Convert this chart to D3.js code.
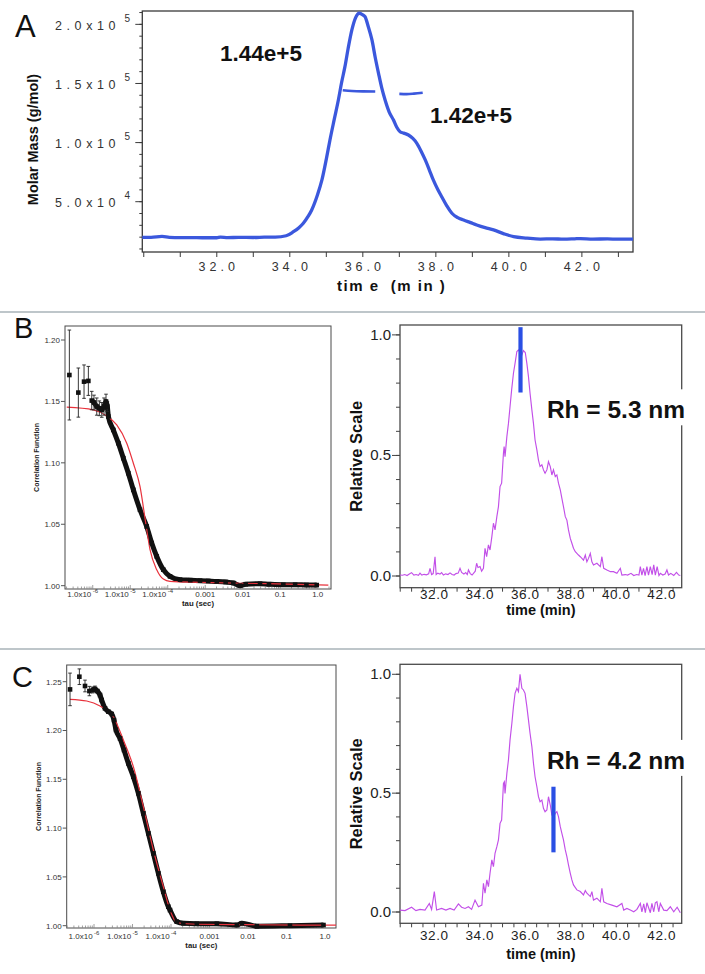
<!DOCTYPE html>
<html><head><meta charset="utf-8">
<script src="https://cdn.jsdelivr.net/npm/d3@7"></script>
<style>
html,body{margin:0;padding:0;background:#fff;}
svg{display:block;font-family:"Liberation Sans",Arial,Helvetica,sans-serif;}
</style></head><body>
<svg id="fig" width="705" height="974"></svg>
<script>
// ===================== DATA =====================
// Panel A : light-scattering trace (time in min, value on molar-mass axis)
const molarTrace = [[29.96,19900],[30.2,19800],[30.5,20600],[30.7,19900],[31.0,19600],[31.3,19600],[31.6,19500],[32.0,19500],[32.1,20100],[32.3,19600],[32.6,19800],[33.0,19700],[33.3,20000],[33.6,20100],[33.9,21200],[34.1,24600],[34.25,28000],[34.37,31700],[34.5,37500],[34.6,43000],[34.75,55000],[34.88,68400],[35.0,86000],[35.1,102200],[35.22,120000],[35.33,136000],[35.42,151000],[35.51,164200],[35.6,180000],[35.7,195300],[35.8,205500],[35.9,209400],[36.0,208000],[36.06,206500],[36.15,198000],[36.25,186800],[36.34,172000],[36.43,158600],[36.52,146000],[36.61,136000],[36.72,126000],[36.84,119100],[36.93,113000],[37.02,109200],[37.12,108000],[37.25,106400],[37.37,103500],[37.48,99400],[37.6,92500],[37.71,85300],[37.82,77000],[37.93,68400],[38.05,60500],[38.16,54200],[38.3,46500],[38.44,40200],[38.6,36500],[38.76,34500],[38.95,32300],[39.12,30300],[39.35,28000],[39.58,26100],[39.85,23000],[40.13,20400],[40.5,19200],[40.86,18400],[41.2,18600],[41.5,18300],[41.8,18600],[41.96,18800],[42.3,18400],[42.7,18500],[43.0,18300],[43.4,18300]];
const molarMass1 = [[35.45,144200],[35.7,143600],[36.0,143300],[36.34,143200]];
const molarMass2 = [[37.0,141200],[37.2,141000],[37.4,141400],[37.64,142200]];
const molarLabels = [{text:"1.44e+5", t:32.09, v:169000},{text:"1.42e+5", t:37.84, v:116600}];
const molarTicks = [50000,100000,150000,200000];
const molarTickBase = ["5.0x10","1.0x10","1.5x10","2.0x10"];
const molarTickSup = ["4","5","5","5"];
const timeTicksA = [32,34,36,38,40,42];

// Panel B / C left : DLS correlation functions [tau (s), g, error]
const corrB = [[2.38e-7,1.1715,0.0366],[4.13e-7,1.1572,0.020],[5.86e-7,1.1661,0.0136],[7.64e-7,1.1667,0.0118],[9.4e-7,1.1507,0.0075],[1.08e-6,1.1491,0.006],[1.28e-6,1.1458,0.007],[1.50e-6,1.1444,0.006],[1.74e-6,1.1431,0.006],[2.0e-6,1.1458,0.007],[2.26e-6,1.1499,0.006],[2.45e-6,1.1458,0.004],[2.61e-6,1.1377,0],[3.54e-6,1.1268,0],[4.82e-6,1.1160,0],[6.55e-6,1.1038,0],[8.89e-6,1.0916,0],[1.21e-5,1.0780,0],[1.82e-5,1.0618,0],[2.75e-5,1.0482,0],[3.74e-5,1.0347,0],[5.09e-5,1.0238,0],[7.64e-5,1.0130,0],[1.15e-4,1.0076,0],[2.13e-4,1.0049,0],[4.0e-4,1.0045,0],[7.26e-4,1.0041,0],[1.2e-3,1.0038,0],[2.03e-3,1.0035,0],[3.5e-3,1.0030,0],[5.61e-3,1.0022,0],[8.47e-3,1.0000,0],[0.012,1.0012,0],[0.0289,1.0016,0],[0.05,1.0012,0],[0.121,1.0008,0],[0.25,1.0008,0],[0.5,1.0006,0],[0.94,1.0005,0]];
const fitB = [[2.03e-7,1.1453],[1.04e-6,1.1431],[2.36e-6,1.1382],[4.37e-6,1.1309],[8.07e-6,1.1160],[1.21e-5,1.0997],[1.82e-5,1.0808],[2.59e-5,1.0509],[3.37e-5,1.0293],[5.09e-5,1.0130],[7.64e-5,1.0054],[1.15e-4,1.0035],[7.26e-4,1.0027],[0.0437,1.0016],[1.92,1.0005]];
const corrC = [[2.38e-7,1.2421,0.0167],[4.16e-7,1.2551,0.008],[5.83e-7,1.2456,0.006],[7.57e-7,1.2404,0.0048],[9.25e-7,1.2415,0.003],[1.06e-6,1.2425,0.003],[1.22e-6,1.2404,0],[1.43e-6,1.2363,0],[1.58e-6,1.2312,0],[1.93e-6,1.2227,0],[2.36e-6,1.2193,0],[2.88e-6,1.2169,0],[3.30e-6,1.2107,0],[3.72e-6,1.2005,0],[4.73e-6,1.1919,0],[6.01e-6,1.1800,0],[7.80e-6,1.1663,0],[1.05e-5,1.1527,0],[1.42e-5,1.1356,0],[1.91e-5,1.1151,0],[2.58e-5,1.0946,0],[3.48e-5,1.0741,0],[4.69e-5,1.0536,0],[6.31e-5,1.0348,0],[8.51e-5,1.0195,0],[9.42e-5,1.0160,0],[1.41e-4,1.0041,0],[2.09e-4,1.0025,0],[4.68e-4,1.0020,0],[1.55e-3,1.0020,0],[5.13e-3,1.0007,0],[6.92e-3,1.0025,0],[0.017,0.9995,0],[0.123,1.0000,0],[0.912,1.0007,0]];
const fitC = [[2.38e-7,1.2319],[6.46e-7,1.2302],[1.43e-6,1.2251],[3.18e-6,1.2141],[5.78e-6,1.1902],[1.05e-5,1.1629],[1.91e-5,1.1219],[3.48e-5,1.0775],[6.31e-5,1.0400],[9.42e-5,1.0160],[1.41e-4,1.0030],[4.68e-4,1.0015],[0.0112,1.0010],[1.93,1.0005]];
const corrTicksB = [1.00,1.05,1.10,1.15,1.20];
const corrTicksC = [1.00,1.05,1.10,1.15,1.20,1.25];
const tauTicks = [1e-6,1e-5,1e-4,1e-3,1e-2,1e-1,1];
const tauTickBase = ["1.0x10","1.0x10","1.0x10","0.001","0.01","0.1","1.0"];
const tauTickSup = ["-6","-5","-4","","","",""];

// Panel B / C right : SEC relative scale traces [time (min), relative scale]
const secB = [[30.49,0.004],[30.6,0.003],[30.7,0.006],[30.8,0.002],[30.9,0.008],[31.0,0.014],[31.1,0.004],[31.2,0.006],[31.3,0.003],[31.37,0.012],[31.45,0.004],[31.55,0.007],[31.65,0.005],[31.75,0.009],[31.81,0.032],[31.88,0.006],[31.95,0.010],[32.03,0.080],[32.08,0.006],[32.15,0.012],[32.25,0.008],[32.32,0.014],[32.4,0.004],[32.5,0.009],[32.6,0.006],[32.69,0.013],[32.78,0.006],[32.87,0.004],[32.95,0.010],[33.05,0.012],[33.13,0.032],[33.2,0.015],[33.3,0.008],[33.38,0.014],[33.45,0.006],[33.5,0.025],[33.58,0.010],[33.66,0.004],[33.73,0.012],[33.8,0.020],[33.86,0.053],[33.92,0.035],[34.01,0.039],[34.08,0.020],[34.16,0.032],[34.23,0.115],[34.3,0.080],[34.38,0.129],[34.45,0.108],[34.53,0.163],[34.6,0.219],[34.67,0.191],[34.75,0.246],[34.82,0.288],[34.89,0.371],[34.96,0.385],[35.04,0.509],[35.07,0.537],[35.11,0.495],[35.19,0.578],[35.26,0.633],[35.33,0.703],[35.4,0.772],[35.48,0.841],[35.55,0.882],[35.63,0.931],[35.7,0.938],[35.77,0.927],[35.85,0.917],[35.92,0.935],[36.0,0.927],[36.07,0.882],[36.14,0.827],[36.21,0.758],[36.29,0.689],[36.36,0.633],[36.43,0.564],[36.51,0.523],[36.58,0.481],[36.65,0.454],[36.73,0.461],[36.8,0.440],[36.87,0.426],[36.95,0.440],[37.02,0.474],[37.1,0.454],[37.17,0.419],[37.24,0.440],[37.32,0.412],[37.39,0.419],[37.46,0.385],[37.54,0.357],[37.61,0.322],[37.68,0.288],[37.76,0.246],[37.83,0.232],[37.9,0.191],[37.98,0.156],[38.05,0.136],[38.12,0.115],[38.2,0.101],[38.27,0.094],[38.34,0.087],[38.42,0.080],[38.49,0.073],[38.56,0.066],[38.64,0.087],[38.71,0.059],[38.78,0.073],[38.86,0.094],[38.93,0.059],[39.0,0.046],[39.15,0.053],[39.3,0.039],[39.37,0.080],[39.45,0.032],[39.59,0.025],[39.75,0.018],[39.88,0.018],[40.03,0.011],[40.18,0.032],[40.25,0.004],[40.4,0.006],[40.5,0.004],[40.65,0.011],[40.77,0.002],[40.9,0.006],[41.0,0.004],[41.06,0.039],[41.13,0.004],[41.2,0.032],[41.27,0.002],[41.35,0.039],[41.42,0.004],[41.5,0.039],[41.58,0.006],[41.65,0.046],[41.72,0.004],[41.8,0.039],[41.88,0.002],[41.94,0.011],[42.05,0.004],[42.15,0.008],[42.23,0.025],[42.3,0.004],[42.4,0.011],[42.53,0.002],[42.65,0.015],[42.75,0.004],[42.82,0.002]];
const secC = [[30.49,0.008],[30.71,0.006],[31.0,0.020],[31.19,0.006],[31.37,0.011],[31.59,0.008],[31.78,0.036],[31.88,0.011],[32.0,0.086],[32.1,0.008],[32.32,0.015],[32.51,0.008],[32.69,0.015],[32.87,0.008],[33.06,0.034],[33.2,0.020],[33.35,0.015],[33.5,0.022],[33.64,0.011],[33.79,0.050],[33.94,0.022],[34.09,0.029],[34.16,0.121],[34.23,0.079],[34.31,0.135],[34.38,0.107],[34.45,0.163],[34.53,0.219],[34.6,0.191],[34.67,0.247],[34.75,0.275],[34.82,0.303],[34.89,0.373],[34.96,0.387],[35.04,0.541],[35.08,0.548],[35.11,0.499],[35.19,0.583],[35.26,0.640],[35.33,0.724],[35.41,0.794],[35.48,0.864],[35.55,0.920],[35.63,0.941],[35.7,0.927],[35.77,1.000],[35.85,0.941],[35.92,0.934],[35.99,0.920],[36.07,0.864],[36.14,0.808],[36.21,0.752],[36.29,0.696],[36.36,0.626],[36.43,0.569],[36.51,0.527],[36.58,0.485],[36.65,0.464],[36.73,0.471],[36.8,0.436],[36.87,0.422],[36.95,0.429],[37.02,0.485],[37.1,0.450],[37.17,0.408],[37.24,0.401],[37.32,0.415],[37.39,0.422],[37.46,0.401],[37.54,0.359],[37.61,0.331],[37.68,0.303],[37.76,0.261],[37.83,0.233],[37.9,0.198],[37.98,0.163],[38.05,0.135],[38.12,0.114],[38.27,0.093],[38.42,0.086],[38.56,0.072],[38.64,0.090],[38.71,0.079],[38.86,0.065],[38.93,0.086],[39.0,0.050],[39.15,0.058],[39.3,0.043],[39.37,0.100],[39.45,0.043],[39.59,0.036],[39.81,0.029],[40.03,0.022],[40.25,0.036],[40.33,0.008],[40.47,0.015],[40.62,0.008],[40.77,0.001],[40.91,0.011],[41.06,0.036],[41.13,0.001],[41.21,0.034],[41.28,-0.003],[41.35,0.039],[41.5,-0.003],[41.57,0.036],[41.65,0.001],[41.72,0.039],[41.79,0.043],[41.87,0.001],[41.94,0.036],[42.09,0.008],[42.23,0.006],[42.38,0.022],[42.53,0.001],[42.68,0.020],[42.82,-0.003]];
const rhBarB = {t:35.79, from:0.761, to:1.032};
const rhBarC = {t:37.24, from:0.251, to:0.527};
const rhLabelB = {text:"Rh = 5.3 nm", t:36.95, v:0.654};
const rhLabelC = {text:"Rh = 4.2 nm", t:36.95, v:0.602};
const secTimeTicks = [32,34,36,38,40,42];
const secValueTicks = [0,0.5,1.0];

// ===================== DRAWING =====================
const svg = d3.select('#fig');
const AX = '#3a3a3a';

// panel separators
[312, 649].forEach(y => svg.append('line').attr('x1',0).attr('x2',705).attr('y1',y).attr('y2',y)
  .attr('stroke','#a9b3b9').attr('stroke-width',1.5));

// panel letters
[["A",15,37,31],["B",14,338,29],["C",12,687,29]].forEach(([t,x,y,s]) =>
  svg.append('text').attr('x',x).attr('y',y).attr('font-size',s).attr('fill','#111').text(t));

// ---------- Panel A ----------
(function(){
  const x = d3.scaleLinear().domain([29.96, 43.4]).range([142.3, 633]);
  const y = d3.scaleLinear().domain([7445, 211300]).range([252, 11]);
  const [x0,x1] = x.range(), [y1,y0] = y.range();
  const g = svg.append('g');
  g.append('rect').attr('x',x0).attr('y',y0).attr('width',x1-x0).attr('height',y1-y0)
    .attr('fill','none').attr('stroke',AX).attr('stroke-width',1.3);
  d3.range(30, 44).forEach(t => g.append('line').attr('x1',x(t)).attr('x2',x(t)).attr('y1',y1).attr('y2',y1+5)
    .attr('stroke',AX).attr('stroke-width',1));
  timeTicksA.forEach(t => g.append('text').attr('x',x(t)+2).attr('y',y1+19).attr('text-anchor','middle')
    .attr('font-size',12.5).attr('letter-spacing','4px').attr('fill','#333').text(t.toFixed(1)));
  g.append('text').attr('x',(x0+x1)/2+4).attr('y',y1+39).attr('text-anchor','middle').attr('font-weight','bold')
    .attr('font-size',15).attr('letter-spacing','1.5px').attr('fill','#111')
    .style('white-space','pre').text('tim e  (m in )');
  d3.range(10000, 211000, 10000).forEach(v => g.append('line').attr('x1',x0-3).attr('x2',x0).attr('y1',y(v)).attr('y2',y(v))
    .attr('stroke',AX).attr('stroke-width',1));
  molarTicks.forEach((v,i) => {
    g.append('line').attr('x1',x0-7).attr('x2',x0).attr('y1',y(v)).attr('y2',y(v)).attr('stroke',AX).attr('stroke-width',1);
    g.append('text').attr('x',55).attr('y',y(v)+5.6).attr('font-size',12.5).attr('letter-spacing','4.6px')
      .attr('fill','#333').text(molarTickBase[i]);
    g.append('text').attr('x',124.5).attr('y',y(v)-2.8).attr('font-size',10).attr('fill','#333').text(molarTickSup[i]);
  });
  g.append('text').attr('transform',`translate(38,${(y0+y1)/2+8}) rotate(-90)`).attr('text-anchor','middle')
    .attr('font-weight','bold').attr('font-size',14.5).attr('fill','#111').text('Molar Mass (g/mol)');
  const line = d3.line().x(d=>x(d[0])).y(d=>y(d[1])).curve(d3.curveMonotoneX);
  g.append('path').attr('d',line(molarTrace)).attr('fill','none').attr('stroke','#3b58dd').attr('stroke-width',3.3);
  [molarMass1, molarMass2].forEach(s => g.append('path').attr('d',line(s)).attr('fill','none')
    .attr('stroke','#3b58dd').attr('stroke-width',2.6));
  molarLabels.forEach(l => g.append('text').attr('x',x(l.t)).attr('y',y(l.v)).attr('font-weight','bold')
    .attr('font-size',22.5).attr('fill','#111').text(l.text));
})();

// ---------- Correlation panels ----------
function drawCorr(o){
  const x = d3.scaleLog().domain(o.tauDom).range(o.xr);
  const y = d3.scaleLinear().domain(o.gDom).range(o.yr);
  const [x0,x1] = x.range(), [y1,y0] = y.range();
  const g = svg.append('g');
  g.append('rect').attr('x',x0).attr('y',y0).attr('width',x1-x0).attr('height',y1-y0)
    .attr('fill','none').attr('stroke','#4a4a4a').attr('stroke-width',1);
  o.yTicks.forEach(v => {
    g.append('line').attr('x1',x0-4).attr('x2',x0).attr('y1',y(v)).attr('y2',y(v)).attr('stroke','#555');
    g.append('text').attr('x',x0-5).attr('y',y(v)+3).attr('text-anchor','end').attr('font-size',8)
      .attr('fill','#333').text(v.toFixed(2));
  });
  x.ticks().forEach(t => {
    const lg = Math.log10(t), major = Math.abs(lg - Math.round(lg)) < 1e-6;
    g.append('line').attr('x1',x(t)).attr('x2',x(t)).attr('y1',y1).attr('y2',y1-(major?4:2.5))
      .attr('stroke','#888').attr('stroke-width',0.8);
  });
  tauTicks.forEach((t,i) => {
    const sup = tauTickSup[i];
    const tx = g.append('text').attr('x',x(t) + (sup ? -10 : 0)).attr('y',y1+o.labDy).attr('text-anchor','middle')
      .attr('font-size',8).attr('fill','#333');
    tx.append('tspan').text(tauTickBase[i]);
    if (sup) tx.append('tspan').attr('dy',-4).attr('font-size',6).attr('dx',1.5).text(sup);
  });
  g.append('text').attr('x',(x0+x1)/2).attr('y',y1+o.labDy+8.5).attr('text-anchor','middle')
    .attr('font-weight','bold').attr('font-size',7.8).attr('fill','#222').text('tau (sec)');
  g.append('text').attr('transform',`translate(${x0-26},${(y0+y1)/2}) rotate(-90)`).attr('text-anchor','middle')
    .attr('font-weight','bold').attr('font-size',7).attr('fill','#222').text('Correlation Function');
  const line = d3.line().x(d=>x(d[0])).y(d=>y(d[1])).curve(d3.curveMonotoneX);
  const band = o.data.filter((d,i) => i >= o.bandFrom);
  g.append('path').attr('d',line(band)).attr('fill','none').attr('stroke','#111').attr('stroke-width',5)
    .attr('stroke-linejoin','round');
  g.append('path').attr('d',line(o.fit)).attr('fill','none').attr('stroke','#e8323c').attr('stroke-width',1.2);
  o.data.filter(d => d[2] > 0).forEach(d => {
    const cx = x(d[0]);
    g.append('line').attr('x1',cx).attr('x2',cx).attr('y1',y(d[1]-d[2])).attr('y2',y(d[1]+d[2])).attr('stroke','#222').attr('stroke-width',0.9);
    [d[1]-d[2], d[1]+d[2]].forEach(v => g.append('line').attr('x1',cx-1.8).attr('x2',cx+1.8).attr('y1',y(v)).attr('y2',y(v))
      .attr('stroke','#222').attr('stroke-width',0.9));
  });
  g.selectAll('rect.pt').data(o.data).join('rect').attr('class','pt')
    .attr('x',d=>x(d[0])-2.3).attr('y',d=>y(d[1])-2.3).attr('width',4.6).attr('height',4.6).attr('fill','#111');
}
drawCorr({tauDom:[1.82e-7, 2.26], xr:[65,331], gDom:[0.9973,1.2114], yr:[589,326], yTicks:corrTicksB,
  data:corrB, fit:fitB, bandFrom:4, labDy:8});
drawCorr({tauDom:[1.95e-7, 1.93], xr:[66.7,336], gDom:[0.99764,1.2671], yr:[928,665], yTicks:corrTicksC,
  data:corrC, fit:fitC, bandFrom:4, labDy:11});

// ---------- SEC panels ----------
function drawSEC(o){
  const x = d3.scaleLinear().domain([30.49, 42.88]).range([400, 681.7]);
  const y = d3.scaleLinear().domain(o.vDom).range(o.yr);
  const [x0,x1] = x.range(), [y1,y0] = y.range();
  const g = svg.append('g');
  g.append('rect').attr('x',x0).attr('y',y0).attr('width',x1-x0).attr('height',y1-y0)
    .attr('fill','none').attr('stroke','#4a4a4a').attr('stroke-width',1.3);
  d3.range(30.5, 42.9, 0.5).forEach(t => g.append('line').attr('x1',x(t)).attr('x2',x(t)).attr('y1',y1).attr('y2',y1+4)
    .attr('stroke','#444'));
  secTimeTicks.forEach(t => g.append('text').attr('x',x(t)).attr('y',y1+o.labDy).attr('text-anchor','middle')
    .attr('font-size',13.5).attr('letter-spacing','0.6px').attr('fill','#222').text(t.toFixed(1)));
  g.append('text').attr('x',(x0+x1)/2).attr('y',y1+o.labDy+o.timeDy).attr('text-anchor','middle')
    .attr('font-weight','bold').attr('font-size',14.5).attr('fill','#111').text('time (min)');
  d3.range(0, 1.01, 0.1).forEach(v => g.append('line').attr('x1',x0-4).attr('x2',x0).attr('y1',y(v)).attr('y2',y(v)).attr('stroke','#444'));
  secValueTicks.forEach(v => {
    g.append('line').attr('x1',x0-8).attr('x2',x0).attr('y1',y(v)).attr('y2',y(v)).attr('stroke','#444');
    g.append('text').attr('x',x0-9).attr('y',y(v)+5).attr('text-anchor','end').attr('font-size',15)
      .attr('fill','#222').text(v.toFixed(1));
  });
  g.append('text').attr('transform',`translate(${x0-38},${(y0+y1)/2}) rotate(-90)`).attr('text-anchor','middle')
    .attr('font-weight','bold').attr('font-size',16.5).attr('fill','#111').text('Relative Scale');
  const line = d3.line().x(d=>x(d[0])).y(d=>y(d[1]));
  g.append('path').attr('d',line(o.data)).attr('fill','none').attr('stroke','#c24fe8').attr('stroke-width',1.15);
  g.append('line').attr('x1',x(o.bar.t)).attr('x2',x(o.bar.t)).attr('y1',y(o.bar.from)).attr('y2',y(o.bar.to))
    .attr('stroke','#2a4fe4').attr('stroke-width',4.2);
  const lx = x(o.label.t), ly = y(o.label.v);
  g.append('rect').attr('x',lx-3).attr('y',ly-29).attr('width',146).attr('height',36).attr('fill','#fff');
  g.append('text').attr('x',lx).attr('y',ly).attr('font-weight','bold').attr('font-size',24.5)
    .attr('fill','#111').text(o.label.text);
}
drawSEC({vDom:[-0.0485, 1.041], yr:[587.7, 325], data:secB, bar:rhBarB, label:rhLabelB, labDy:11, timeDy:16});
drawSEC({vDom:[-0.0475, 1.042], yr:[923.3, 664.3], data:secC, bar:rhBarC, label:rhLabelC, labDy:17, timeDy:19});
</script>
</body></html>
